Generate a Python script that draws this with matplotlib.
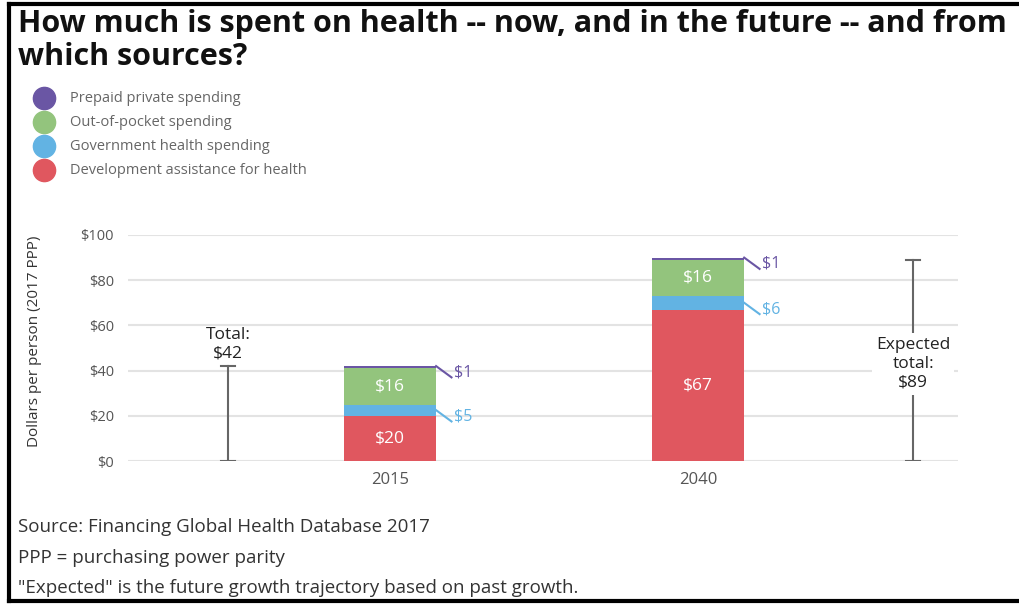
import matplotlib.pyplot as plt
from matplotlib.lines import Line2D
import numpy as np

plt.rcParams['font.family'] = ['Open Sans', 'DejaVu Sans']

# data
years = ["2015", "2040"]
series = ["Development assistance for health", "Government health spending",
          "Out-of-pocket spending", "Prepaid private spending"]
values = {
    "Development assistance for health": [20, 67],
    "Government health spending": [5, 6],
    "Out-of-pocket spending": [16, 16],
    "Prepaid private spending": [1, 1],
}
colors = {
    "Development assistance for health": "#e0575f",
    "Government health spending": "#62b3e3",
    "Out-of-pocket spending": "#93c47d",
    "Prepaid private spending": "#6a56a4",
}
totals = [42, 89]
total_labels = ["Total:\n$42", "Expected\ntotal:\n$89"]
yticks = [0, 20, 40, 60, 80, 100]

W, H = 1019, 604
fig = plt.figure(figsize=(W / 100, H / 100), dpi=100)

def fx(px):
    return px / W

def fy(py):
    return 1 - py / H

# frame lines around the screenshot
for xs, ys in [([fx(9), fx(9)], [fy(4), fy(601)]), ([fx(9), 1], [fy(4), fy(4)]),
               ([fx(9), 1], [fy(601), fy(601)])]:
    fig.add_artist(Line2D(xs, ys, color="black", lw=3))

fig.text(fx(18), fy(9), "How much is spent on health -- now, and in the future -- and from\nwhich sources?",
         fontsize=22, fontweight="bold", va="top", ha="left", linespacing=1.12, color="#111111")

# legend
for i, name in enumerate(series[::-1]):
    y = 98 + 24 * i
    fig.add_artist(Line2D([fx(44)], [fy(y)], marker="o", markersize=16,
                          color=colors[name], linestyle="none"))
    fig.text(fx(70), fy(y), name, fontsize=10.5, color="#666666", va="center")

ax = fig.add_axes([fx(128), fy(461), fx(958) - fx(128), (461 - 235) / H])
xpos = np.array([0.0, 1.0])
width = 0.30
bottom = np.zeros(2)
for name in series:
    v = np.array(values[name], dtype=float)
    ax.bar(xpos, v, width, bottom=bottom, color=colors[name], zorder=3)
    if v[0] >= 10:
        for x, b, val in zip(xpos, bottom, v):
            ax.text(x, b + val / 2, f"${val:.0f}", color="white", fontsize=12.5,
                    ha="center", va="center", zorder=4)
    bottom = bottom + v

# leader labels for thin segments
cum = np.zeros(2)
for name in series:
    v = np.array(values[name], dtype=float)
    if v[0] < 10:
        for x, b, val in zip(xpos, cum, v):
            y0 = b + val / 2 if name != "Prepaid private spending" else b + val
            x0 = x + width / 2
            x1 = x0 + 0.05
            y1 = y0 - 5
            ax.plot([x0, x1], [y0, y1], color=colors[name], lw=1.5, zorder=4,
                    clip_on=False)
            ax.text(x1 + 0.008, y1 + 2.2, f"${val:.0f}", color=colors[name],
                    fontsize=11.5, ha="left", va="center")
    cum = cum + v

# total whiskers
tot_x = [-0.526, 1.698]
for i, (x, t) in enumerate(zip(tot_x, totals)):
    ax.plot([x, x], [0, t], color="#666666", lw=1.5, zorder=2)
    for yy in (0, t):
        ax.plot([x - 0.022, x + 0.022], [yy, yy], color="#666666", lw=1.5, zorder=2)
ax.text(tot_x[0], totals[0] + 2.0, total_labels[0], ha="center", va="bottom",
        fontsize=12.5, color="#222222", linespacing=1.25, zorder=5)
ax.text(tot_x[1], 43.0, total_labels[1], ha="center", va="center",
        fontsize=12.5, color="#222222", linespacing=1.25, zorder=5,
        bbox=dict(facecolor="white", edgecolor="none", pad=3))

ax.set_xlim(-0.85, 1.844)
ax.set_ylim(0, 100)
ax.set_yticks(yticks)
ax.set_yticklabels([f"${t}" for t in yticks])
ax.set_xticks(xpos)
ax.set_xticklabels(years)
ax.tick_params(length=0, labelsize=10.5, labelcolor="#555555")
ax.tick_params(axis="y", pad=10)
ax.tick_params(axis="x", pad=8, labelsize=12)
ax.grid(axis="y", color="#e3e3e3", lw=1.5, zorder=0)
ax.set_axisbelow(True)
for s in ax.spines.values():
    s.set_visible(False)
ax.set_ylabel("Dollars per person (2017 PPP)", fontsize=11, color="#333333")
ax.yaxis.set_label_coords((42 - 128) / 830, 0.53)

fig.text(fx(18), fy(527), "Source: Financing Global Health Database 2017", fontsize=13.5,
         color="#333333", va="center")
fig.text(fx(18), fy(558), "PPP = purchasing power parity", fontsize=13.5,
         color="#333333", va="center")
fig.text(fx(18), fy(588), "\"Expected\" is the future growth trajectory based on past growth.",
         fontsize=13.5, color="#333333", va="center")

fig.savefig("out.png", dpi=100)
